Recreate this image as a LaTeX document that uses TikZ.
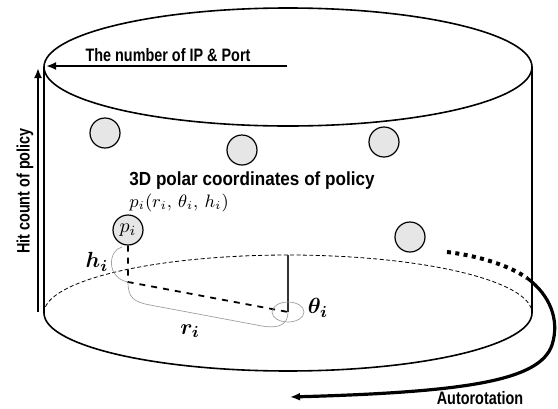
\documentclass[tikz,border=0pt]{standalone}
\usepackage{amsmath}
\usepackage{fontspec}
\newfontfamily\axisfont[FakeStretch=0.8]{Liberation Sans}
\newfontfamily\titlefont[FakeStretch=0.9]{Liberation Sans}
\usetikzlibrary{arrows.meta}
\definecolor{ballgray}{HTML}{E6E6E6}
\definecolor{guidegray}{HTML}{A0A0A0}
\tikzset{
  ball/.style={circle, draw=black, line width=0.6pt, fill=ballgray,
    minimum size=15pt, inner sep=0pt},
  axislabel/.style={font=\axisfont\bfseries\fontsize{9}{10}\selectfont, inner sep=0pt},
  axisarrow/.style={-{Latex[length=5pt,width=4pt]}, line width=1.4pt},
  guide/.style={draw=guidegray, line width=0.35pt},
  symlabel/.style={font=\fontsize{11}{12}\selectfont, inner sep=0pt}
}

\begin{document}
\begin{tikzpicture}[x=0.5pt, y=-0.5pt]
\useasboundingbox (0,0) rectangle (558,408);
% cylinder
\draw[line width=0.8pt] (288,67) ellipse [x radius=244, y radius=59];
\draw[line width=0.8pt] (44,67) -- (44,313) (532,67) -- (532,313);
\draw[line width=0.8pt] plot[domain=0:180, samples=72] ({288+244*cos(\x)}, {313+58*sin(\x)});
\draw[line width=0.4pt, dash pattern=on 2pt off 1.2pt] plot[domain=180:360, samples=72] ({288+244*cos(\x)}, {313+58*sin(\x)});

\node[ball] (b1) at (105,133) {};
\node[ball] (b2) at (242,150) {};
\node[ball] (b3) at (384,142) {};
\node[ball] (b4) at (410,237) {};
\node[ball, font=\normalsize] (pi) at (128,230) {$p_i$};

\node[font=\titlefont\bfseries\fontsize{9.5}{11}\selectfont, inner sep=0pt] (title) at (252,181) {3D polar coordinates of policy};
\node[font=\small, inner sep=0pt, anchor=west] (coord) at (129,203) {$p_i(r_i,\,\theta_i,\,h_i)$};

\coordinate (foot) at (128,282);
\coordinate (o) at (288,312);
\coordinate (rim) at (288,255);
\draw[dashed, line width=0.9pt] (pi) -- (foot) -- (o);
\draw[line width=1pt, black!80] (o) -- (rim);

% guides for h, r, theta
\draw[guide] (122,247) .. controls (108,250) and (106,278) .. (foot);
\draw[guide] (foot) .. controls (128,298) and (134,302) .. (150,305) -- (262,326) .. controls (280,329) and (288,324) .. (o);
\draw[guide] (o) ellipse [x radius=16, y radius=10];

\node[symlabel] (hlab) at (97,262) {$\boldsymbol{h_i}$};
\node[symlabel] (rlab) at (190,331) {$\boldsymbol{r_i}$};
\node[symlabel] (tlab) at (318,308) {$\boldsymbol{\theta_i}$};

% axes
\coordinate (ipstart) at (287,66);
\coordinate (ipend) at (46,66);
\draw[axisarrow] (ipstart) -- (ipend);
\node[axislabel] (iplab) at (168,55) {The number of IP \& Port};
\coordinate (hitstart) at (38,312);
\coordinate (hitend) at (38,68);
\draw[axisarrow] (hitstart) -- (hitend);
\node[axislabel, rotate=90] (hitlab) at (25,191) {Hit count of policy};

% rotation
\coordinate (rotA) at (447,252);
\coordinate (rotB) at (527,278);
\coordinate (rotC) at (290,397);
\draw[line width=2pt, dash pattern=on 2pt off 2.2pt] (rotA) .. controls (480,256) and (510,266) .. (rotB);
\draw[axisarrow, line width=1.6pt] (rotB) .. controls (550,295) and (560,320) .. (552,345) .. controls (540,380) and (470,392) .. (rotC);
\node[axislabel] (rotlab) at (480,398) {Autorotation};
\end{tikzpicture}
\end{document}
